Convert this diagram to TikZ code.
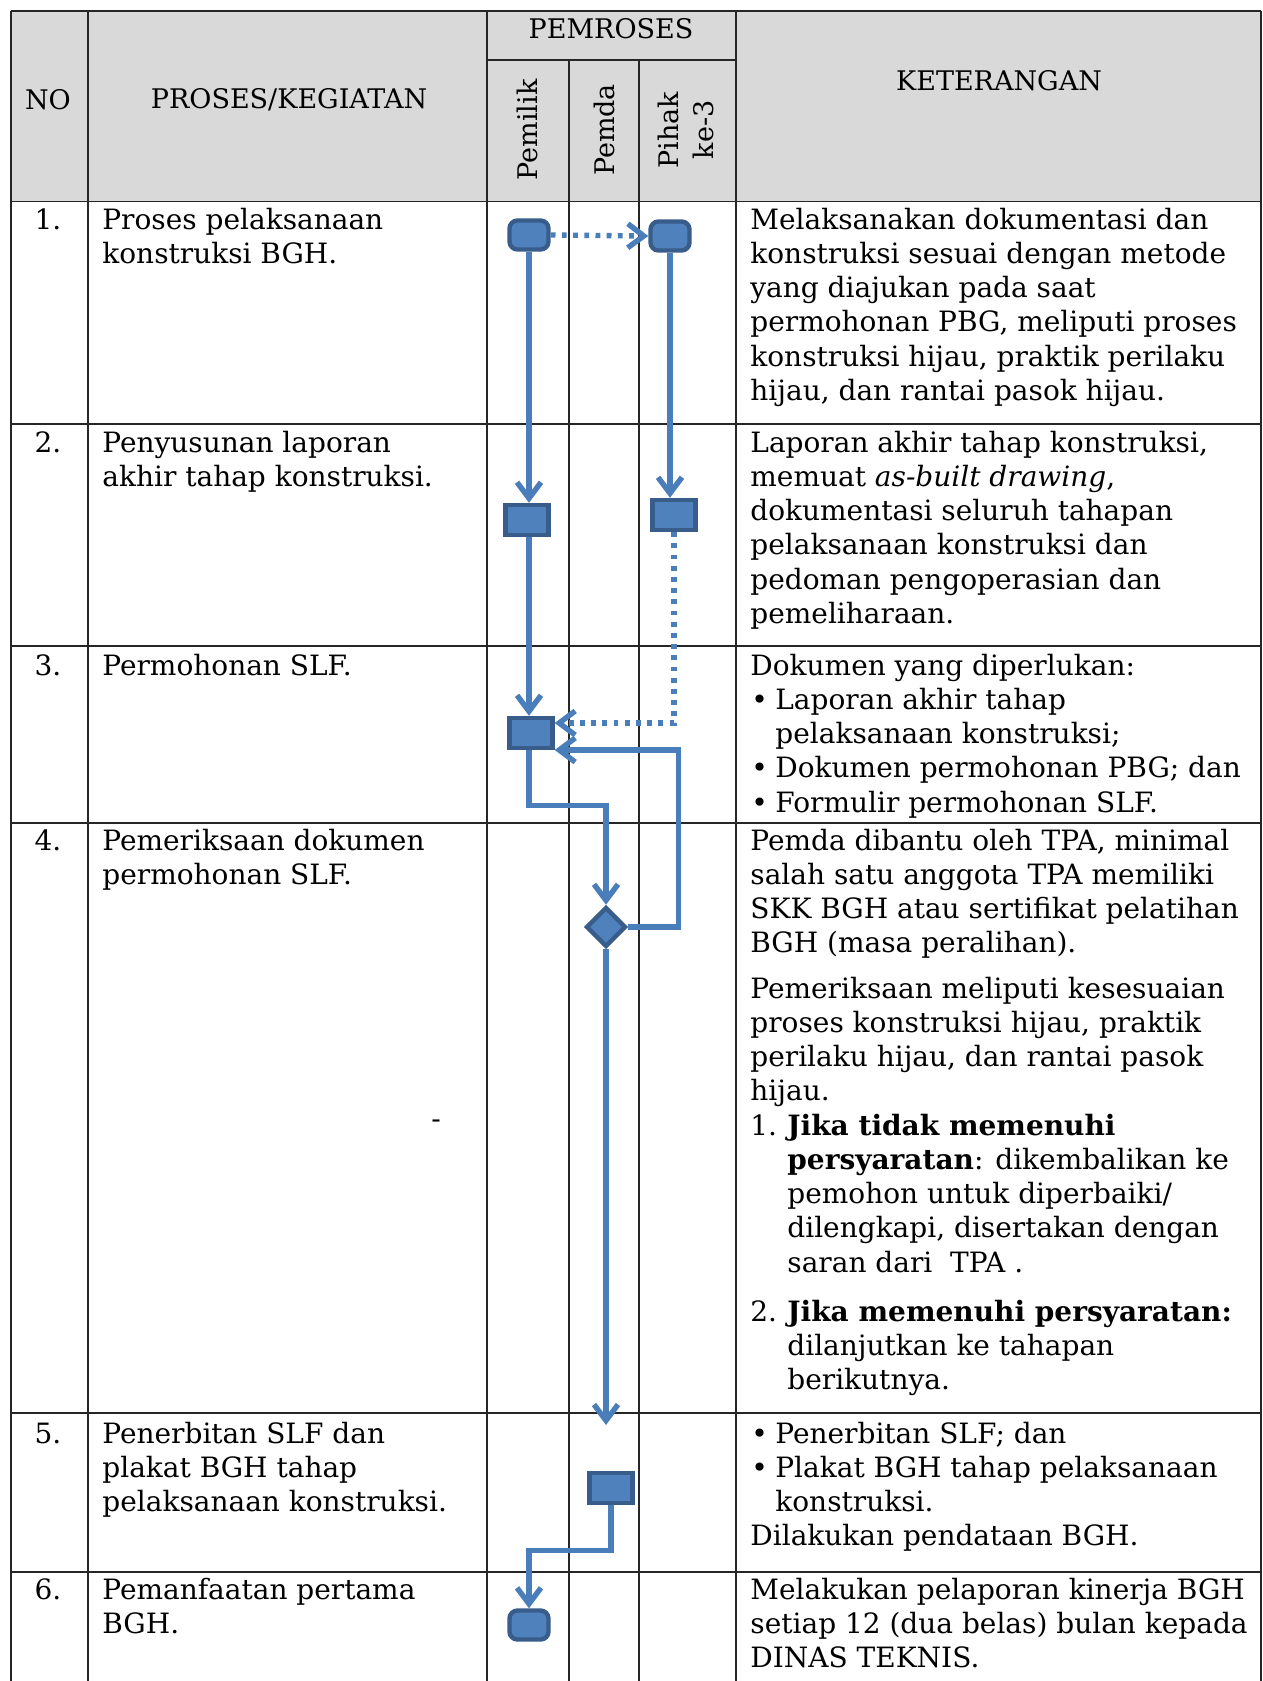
\documentclass[tikz,border=0pt]{standalone}
\usepackage{fontspec}
\setmainfont{DejaVu Serif}
\usetikzlibrary{arrows.meta,calc,shapes.geometric}
\definecolor{hdrgray}{HTML}{D9D9D9}
\definecolor{bfill}{HTML}{4F81BD}
\definecolor{bdraw}{HTML}{385D8A}
\definecolor{bline}{HTML}{4A7EBB}
\newcommand{\Tx}[1]{\parbox[t]{300pt}{\raggedright\fontsize{14}{17.15}\selectfont #1}}
\newcommand{\mybul}{\makebox[12.5pt][l]{\hspace{0.5pt}\textbullet}}
\newcommand{\myind}{\hspace*{12.5pt}}
\newcommand{\mynum}[1]{\makebox[18.5pt][l]{#1}}
\newcommand{\myindb}{\hspace*{18.5pt}}
\begin{document}
\begin{tikzpicture}[x=0.5pt,y=-0.5pt,
  gridline/.style={line width=0.75pt, draw=black!85},
  txt/.style={anchor=base west, inner sep=0pt},
  num/.style={anchor=base, inner sep=0pt, font=\fontsize{14}{17.15}\selectfont},
  hd/.style={inner sep=0pt, font=\fontsize{13.5}{17.5}\selectfont},
  term/.style={draw=bdraw, fill=bfill, line width=2.2pt, rounded corners=4pt,
    minimum width=19.5pt, minimum height=14.5pt, inner sep=0pt},
  box/.style={draw=bdraw, fill=bfill, line width=2.2pt,
    minimum width=21.5pt, minimum height=15pt, inner sep=0pt},
  dec/.style={diamond, draw=bdraw, fill=bfill, line width=2.2pt,
    minimum width=20pt, minimum height=20pt, inner sep=0pt},
  sline/.style={draw=bline, line width=2.7pt, -{Straight Barb[length=8pt,width=12pt]}},
  dline/.style={draw=bline, line width=2.7pt, dash pattern=on 2.4pt off 3.2pt,
    -{Straight Barb[length=8pt,width=12pt]}}
]
\useasboundingbox (0,0) rectangle (1263,1681);
\fill[white] (0,0) rectangle (1263,1681);
% header background
\fill[hdrgray] (11,11) rectangle (1261,201.6);
% table grid
\draw[gridline] (11,11) -- (1261,11);
\draw[gridline] (487,60) -- (736,60);
\foreach \yy in {201.6,424,646,823,1413,1572} \draw[gridline] (11,\yy) -- (1261,\yy);
\foreach \xx in {11,88,487,736,1261} \draw[gridline] (\xx,11) -- (\xx,1681);
\foreach \xx in {569,639} \draw[gridline] (\xx,60) -- (\xx,1681);
% header texts
\node[hd] (hNO) at (48,100) {NO};
\node[hd] (hPK) at (289,100) {PROSES/KEGIATAN};
\node[hd] (hPM) at (611,29) {PEMROSES};
\node[hd] (hKT) at (999,81) {KETERANGAN};
\node[hd, rotate=90] (hPe) at (527,130) {Pemilik};
\node[hd, rotate=90] (hPd) at (604,130) {Pemda};
\node[hd, rotate=90, align=center] (hPh) at (686,130) {Pihak\\ke-3};
% numbers
\node[num] (n1) at (48,229) {1.};
\node[num] (n2) at (48,452) {2.};
\node[num] (n3) at (48,675) {3.};
\node[num] (n4) at (48,850) {4.};
\node[num] (n5) at (48,1443) {5.};
\node[num] (n6) at (48,1599) {6.};
% process column
\node[txt] (p1) at (102,229) {\Tx{Proses pelaksanaan\\konstruksi BGH.}};
\node[txt] (p2) at (102,452) {\Tx{Penyusunan laporan\\akhir tahap konstruksi.}};
\node[txt] (p3) at (102,675) {\Tx{Permohonan SLF.}};
\node[txt] (p4) at (102,850) {\Tx{Pemeriksaan dokumen\\permohonan SLF.}};
\node[txt] (p5) at (102,1443) {\Tx{Penerbitan SLF dan\\plakat BGH tahap\\pelaksanaan konstruksi.}};
\node[txt] (p6) at (102,1599) {\Tx{Pemanfaatan pertama\\BGH.}};
\node[num] (pdash) at (436,1128) {-};
% keterangan column
\node[txt] (k1) at (750,229) {\Tx{Melaksanakan dokumentasi dan\\konstruksi sesuai dengan metode\\yang diajukan pada saat\\permohonan PBG, meliputi proses\\konstruksi hijau, praktik perilaku\\hijau, dan rantai pasok hijau.}};
\node[txt] (k2) at (750,452) {\Tx{Laporan akhir tahap konstruksi,\\memuat \textit{as-built drawing},\\dokumentasi seluruh tahapan\\pelaksanaan konstruksi dan\\pedoman pengoperasian dan\\pemeliharaan.}};
\node[txt] (k3) at (750,675) {\Tx{Dokumen yang diperlukan:\\\mybul Laporan akhir tahap\\\myind pelaksanaan konstruksi;\\\mybul Dokumen permohonan PBG; dan\\\mybul Formulir permohonan SLF.}};
\node[txt] (k4a) at (750,850) {\Tx{Pemda dibantu oleh TPA, minimal\\salah satu anggota TPA memiliki\\SKK BGH atau sertifikat pelatihan\\BGH (masa peralihan).}};
\node[txt] (k4b) at (750,998) {\Tx{Pemeriksaan meliputi kesesuaian\\proses konstruksi hijau, praktik\\perilaku hijau, dan rantai pasok\\hijau.}};
\node[txt] (k4c) at (750,1135) {\Tx{\mynum{1.}\textbf{Jika tidak memenuhi}\\\myindb\textbf{persyaratan}: dikembalikan ke\\\myindb pemohon untuk diperbaiki/\\\myindb dilengkapi, disertakan dengan\\\myindb saran dari\ \ TPA\ .}};
\node[txt] (k4d) at (750,1321) {\Tx{\mynum{2.}\textbf{Jika memenuhi persyaratan:}\\\myindb dilanjutkan ke tahapan\\\myindb berikutnya.}};
\node[txt] (k5) at (750,1443) {\Tx{\mybul Penerbitan SLF; dan\\\mybul Plakat BGH tahap pelaksanaan\\\myind konstruksi.\\Dilakukan pendataan BGH.}};
\node[txt] (k6) at (750,1599) {\Tx{Melakukan pelaporan kinerja BGH\\setiap 12 (dua belas) bulan kepada\\DINAS TEKNIS.}};
% flow nodes
\node[term] (A1) at (529,235) {};
\node[term] (B1) at (670,236) {};
\node[box] (A2) at (527,520) {};
\node[box] (B2) at (674,515) {};
\node[box] (A3) at (531,733) {};
\node[dec] (D4) at (606,927) {};
\node[box] (C5) at (611,1488) {};
\node[term] (A6) at (529,1625) {};
\coordinate (E4) at (606,1425);
% connectors
\draw[dline] (A1.east) -- (B1.west);
\draw[sline] (A1.south) -- (A1.south |- A2.north);
\draw[sline] (B1.south) -- (B1.south |- B2.north);
\draw[dline] (B2.south) |- ($(A3.east)+(0,-10)$);
\draw[sline] ($(A2.south)+(2,0)$) -- ($(A2.south |- A3.north)+(2,0)$);
\draw[sline] ($(A3.south)+(-2,0)$) -- ++(0,55) -| (D4.north);
\draw[sline] (D4.east) -- ++(50,0) |- ($(A3.east)+(0,17)$);
\draw[sline] (D4.south) -- (E4);
\draw[sline] (C5.south) -- ++(0,45) -| (A6.north);
\end{tikzpicture}
\end{document}
